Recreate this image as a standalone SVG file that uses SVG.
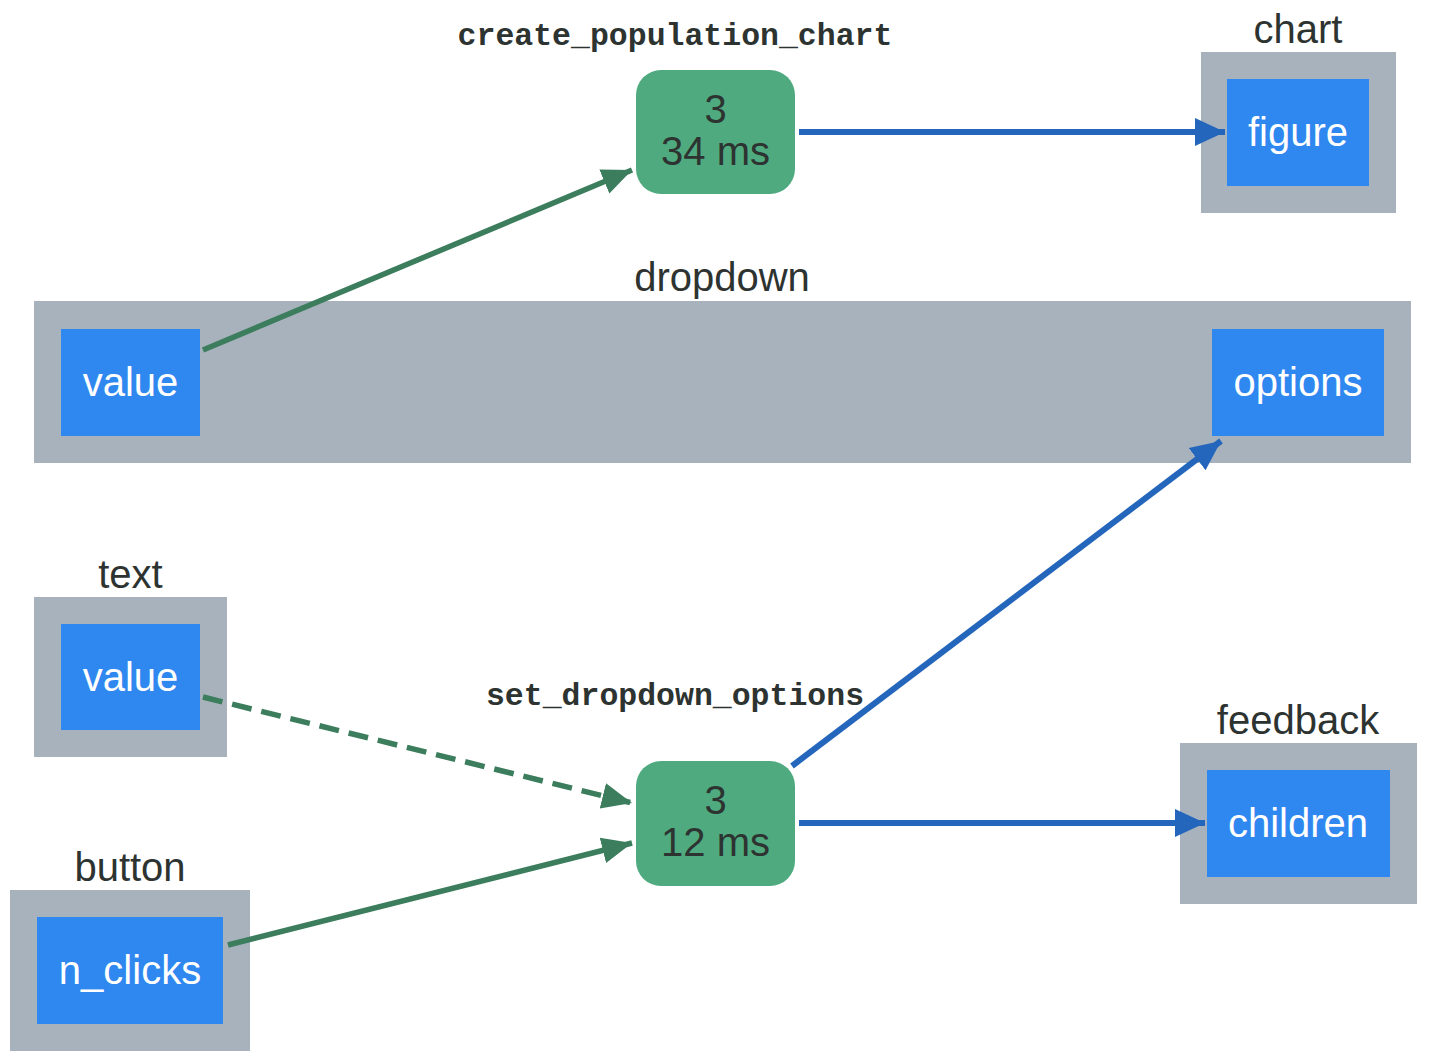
<svg xmlns="http://www.w3.org/2000/svg" width="1429" height="1063" viewBox="0 0 1429 1063">
<style>
.cl{fill:#a8b2bd}
.bx{fill:#2f87f0}
.fn{fill:#4fab7f}
.lb{font-family:"Liberation Sans",Arial,sans-serif;font-size:40px;fill:#2d3330;text-anchor:middle}
.in{font-family:"Liberation Sans",Arial,sans-serif;font-size:40px;fill:#ffffff;text-anchor:middle}
.mo{font-family:"Liberation Mono","Courier New",monospace;font-size:31.5px;font-weight:bold;fill:#2d3330;text-anchor:middle}
.bl{stroke:#2366bb;stroke-width:6;fill:none}
.gr{stroke:#3b7d5c;stroke-width:5.5;fill:none}
</style>
<defs>
<marker id="ab" markerUnits="userSpaceOnUse" markerWidth="32" markerHeight="30" refX="30" refY="15" orient="auto"><path d="M0,1 L30,15 L0,29 z" fill="#2366bb"/></marker>
<marker id="ag" markerUnits="userSpaceOnUse" markerWidth="32" markerHeight="30" refX="30" refY="15" orient="auto"><path d="M0,2 L30,15 L0,28 z" fill="#3b7d5c"/></marker>
</defs>
<rect width="1429" height="1063" fill="#ffffff"/>
<g id="chart">
<rect class="cl" x="1201" y="52" width="195" height="161"/>
<text class="lb" x="1298" y="43">chart</text>
<rect class="bx" x="1227" y="79" width="142" height="107"/>
<text class="in" x="1298" y="146">figure</text>
</g>
<g id="dropdown">
<rect class="cl" x="34" y="301" width="1377" height="162"/>
<text class="lb" x="722" y="291">dropdown</text>
<rect class="bx" x="61" y="329" width="139" height="107"/>
<text class="in" x="130.5" y="396">value</text>
<rect class="bx" x="1212" y="329" width="172" height="107"/>
<text class="in" x="1298" y="396">options</text>
</g>
<g id="text">
<rect class="cl" x="34" y="597" width="193" height="160"/>
<text class="lb" x="130.5" y="588">text</text>
<rect class="bx" x="61" y="624" width="139" height="106"/>
<text class="in" x="130.5" y="691">value</text>
</g>
<g id="button">
<rect class="cl" x="10" y="890" width="240" height="161"/>
<text class="lb" x="130" y="881">button</text>
<rect class="bx" x="37" y="917" width="186" height="107"/>
<text class="in" x="130" y="984">n_clicks</text>
</g>
<g id="feedback">
<rect class="cl" x="1180" y="743" width="237" height="161"/>
<text class="lb" x="1298" y="734">feedback</text>
<rect class="bx" x="1207" y="770" width="183" height="107"/>
<text class="in" x="1298" y="837">children</text>
</g>
<g id="create_population_chart">
<text class="mo" x="675" y="45">create_population_chart</text>
<rect class="fn" x="636" y="70" width="159" height="124" rx="25"/>
<text class="lb" x="715.5" y="123">3</text>
<text class="lb" x="715.5" y="165">34 ms</text>
</g>
<g id="set_dropdown_options">
<text class="mo" x="675" y="705">set_dropdown_options</text>
<rect class="fn" x="636" y="761" width="159" height="125" rx="25"/>
<text class="lb" x="715.5" y="814">3</text>
<text class="lb" x="715.5" y="856">12 ms</text>
</g>
<g id="connectors">
<line class="gr" x1="203" y1="350" x2="632" y2="170" marker-end="url(#ag)"/>
<line class="gr" x1="203" y1="697" x2="632" y2="803" stroke-dasharray="20 10" marker-end="url(#ag)"/>
<line class="gr" x1="228" y1="945" x2="632" y2="843" marker-end="url(#ag)"/>
<line class="bl" x1="799" y1="132" x2="1225" y2="132" marker-end="url(#ab)"/>
<line class="bl" x1="792" y1="766" x2="1221" y2="441" marker-end="url(#ab)"/>
<line class="bl" x1="799" y1="823" x2="1205" y2="823" marker-end="url(#ab)"/>
</g>
</svg>
